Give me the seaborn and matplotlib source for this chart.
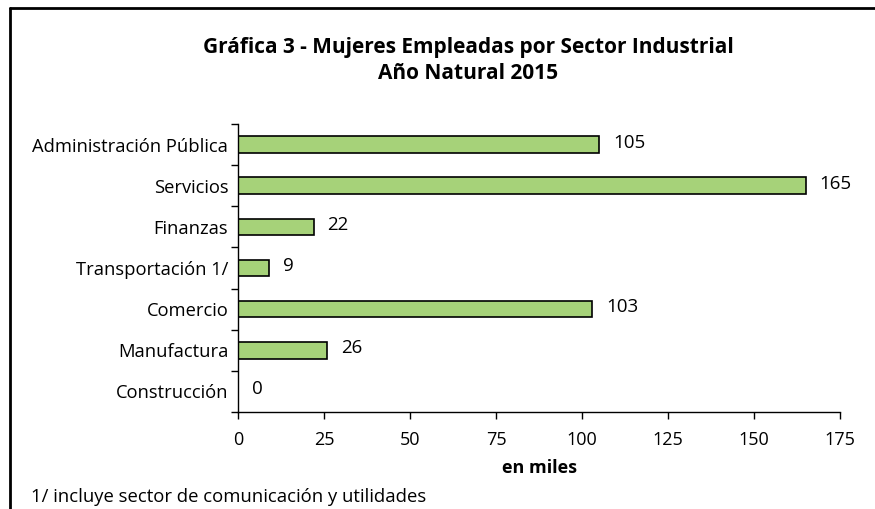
import matplotlib
matplotlib.use("Agg")
import matplotlib.pyplot as plt
import seaborn as sns
import pandas as pd
from matplotlib.lines import Line2D

sectores = ["Administración Pública", "Servicios", "Finanzas", "Transportación 1/",
            "Comercio", "Manufactura", "Construcción"]
mujeres = [105, 165, 22, 9, 103, 26, 0]
xticks = [0, 25, 50, 75, 100, 125, 150, 175]

df = pd.DataFrame({"sector": sectores, "miles": mujeres})

sns.set_style("white")
plt.rcParams['font.family'] = ['Open Sans', 'DejaVu Sans']
plt.rcParams.update({"text.color": "black", "axes.labelcolor": "black",
                     "xtick.color": "black", "ytick.color": "black"})

fig = plt.figure(figsize=(8.75, 5.09), dpi=100)
ax = fig.add_axes([0.272, 0.1906, 0.688, 0.5658])

sns.barplot(data=df, x="miles", y="sector", orient="h", color="#A6D279",
            edgecolor="black", linewidth=1.2, width=0.4, saturation=1, ax=ax)

ax.set_xlim(0, 175)
ax.set_ylim(6.5, -0.5)
ax.set_xticks(xticks)
ax.set_xticklabels([str(t) for t in xticks], fontsize=13)
ax.tick_params(axis="x", bottom=True, direction="out", length=5, width=1, pad=9)
ax.tick_params(axis="y", which="major", left=True, length=0, pad=7, labelsize=13.2)
ax.set_yticks([i - 0.5 for i in range(len(sectores) + 1)], minor=True)
ax.tick_params(axis="y", which="minor", left=True, direction="out", length=5, width=1)

for s in ["top", "right"]:
    ax.spines[s].set_visible(False)
for s in ["left", "bottom"]:
    ax.spines[s].set_color("black")
    ax.spines[s].set_linewidth(1)

for i, v in enumerate(mujeres):
    ax.text(v + 4, i - 0.05, str(v), va="center", ha="left", fontsize=13.5)

ax.set_xlabel("en miles", fontsize=13, fontweight="bold", labelpad=7)
ax.set_ylabel("")

fig.text(0.535, 0.907, "Gráfica 3 - Mujeres Empleadas por Sector Industrial",
         ha="center", va="center", fontsize=15, fontweight="bold")
fig.text(0.535, 0.855, "Año Natural 2015", ha="center", va="center",
         fontsize=15, fontweight="bold")
fig.text(0.036, 0.023, "1/ incluye sector de comunicación y utilidades",
         ha="left", va="center", fontsize=13.3)

fig.add_artist(Line2D([0.0115, 1.0], [0.984, 0.984], color="black", lw=2,
                      transform=fig.transFigure))
fig.add_artist(Line2D([0.0115, 0.0115], [0.0, 0.984], color="black", lw=2,
                      transform=fig.transFigure))

fig.savefig("out.png", dpi=100)
